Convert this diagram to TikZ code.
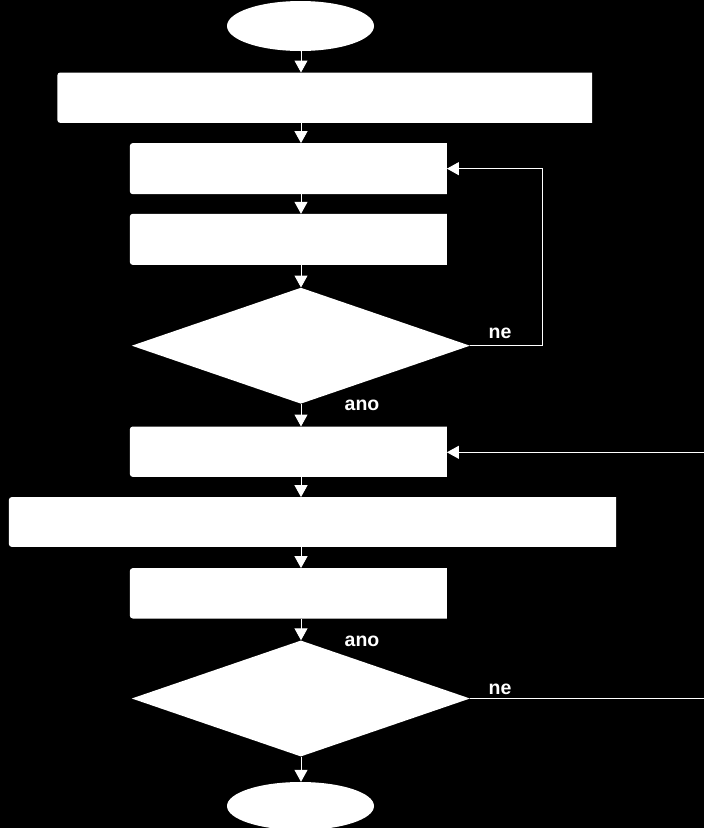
\documentclass[tikz,border=0pt]{standalone}
\usepackage{fontspec}
\setmainfont{Liberation Sans}
\usetikzlibrary{shapes.geometric,arrows.meta,calc}

\tikzset{
  box/.style={rectangle, inner sep=0pt},
  decision/.style={diamond, fill=white, inner sep=0pt, minimum width=338.3pt, minimum height=116pt},
  terminal/.style={ellipse, fill=white, inner sep=0pt, minimum width=147pt, minimum height=50pt},
  flow/.style={draw=white, line width=1pt},
  arr/.style={flow, -{Triangle[width=13pt,length=12pt]}},
  lbl/.style={text=white, font=\bfseries\fontsize{19.5}{22}\selectfont, inner sep=0pt}
}

\begin{document}
\begin{tikzpicture}[x=1pt, y=-1pt]
  % black page
  \fill[black] (0,0) rectangle (704,828);
  \useasboundingbox (0,0) rectangle (704,828);

  % shapes
  \node[terminal] (e1) at (300.5,26) {};
  \node[box, minimum width=534.5pt, minimum height=50pt] (r1) at (324.75,97.7) {};
  \node[box, minimum width=316.7pt, minimum height=50.7pt] (r2) at (288.35,168.65) {};
  \node[box, minimum width=316.7pt, minimum height=50.7pt] (r3) at (288.35,239.35) {};
  \node[decision] (d1) at (300.85,345.7) {};
  \node[box, minimum width=316.7pt, minimum height=50pt] (r4) at (288.35,451.7) {};
  \node[box, minimum width=607pt, minimum height=49.4pt] (r5) at (312.5,522) {};
  \node[box, minimum width=316.7pt, minimum height=50pt] (r6) at (288.35,593.3) {};
  \node[decision] (d2) at (300.85,698.5) {};
  \node[terminal, minimum height=48pt] (e2) at (300.5,806) {};

  % box fills: left corners rounded, right corners square
  \foreach \n in {r1,r2,r3,r4,r5,r6}
    \fill[white] (\n.north east) -- (\n.south east)
      -- ($(\n.south west)+(3,0)$) arc[start angle=90, end angle=180, radius=3]
      -- ($(\n.north west)+(0,3)$) arc[start angle=180, end angle=270, radius=3]
      -- cycle;

  % main column of arrows
  \coordinate (ax) at (301,0);
  \draw[arr] (ax |- e1.south) -- (ax |- r1.north);
  \draw[arr] (ax |- r1.south) -- (ax |- r2.north);
  \draw[arr] (ax |- r2.south) -- (ax |- r3.north);
  \draw[arr] (ax |- r3.south) -- (ax |- d1.north);
  \draw[arr] (ax |- d1.south) -- (ax |- r4.north);
  \draw[arr] (ax |- r4.south) -- (ax |- r5.north);
  \draw[arr] (ax |- r5.south) -- (ax |- r6.north);
  \draw[arr] (ax |- r6.south) -- (ax |- d2.north);
  \draw[arr] (ax |- d2.south) -- (ax |- e2.north);

  % loop back from the first decision
  \coordinate (lp) at (542.7,345.7);
  \draw[arr] (d1.east) -- (lp) |- (r2.east);

  % entry from the right and exit of the second decision
  \coordinate (in4) at (704,452.3);
  \draw[arr] (in4) -- (in4 -| r4.east);
  \coordinate (out2) at (704,698.5);
  \draw[flow] (d2.east) -- (out2);

  % labels
  \node[lbl] (ne1) at (500,333) {ne};
  \node[lbl] (ano1) at (362,405) {ano};
  \node[lbl] (ano2) at (362,641) {ano};
  \node[lbl] (ne2) at (500,689) {ne};
\end{tikzpicture}
\end{document}
